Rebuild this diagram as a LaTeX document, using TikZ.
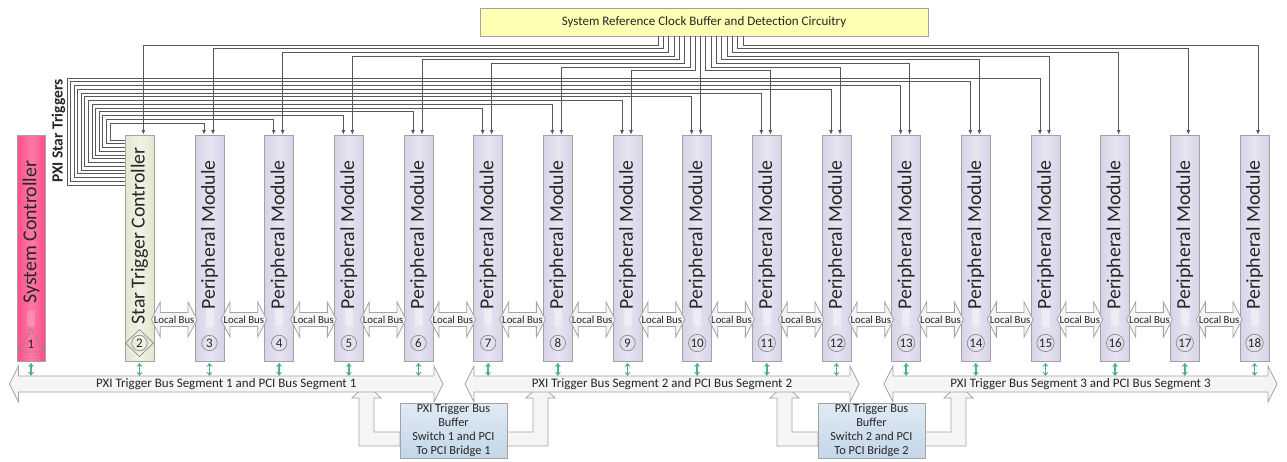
\documentclass[tikz,border=0pt]{standalone}
\usepackage{fontspec}
\setmainfont{Carlito}
\usetikzlibrary{arrows.meta}
\definecolor{wirec}{HTML}{585858}
\definecolor{edgec}{HTML}{A3A3A3}
\definecolor{numedge}{HTML}{8C8C8C}
\definecolor{txt}{HTML}{262626}
\definecolor{periL}{HTML}{E8E4F1}
\definecolor{periD}{HTML}{D8D2E7}
\definecolor{starL}{HTML}{F0F2E4}
\definecolor{starD}{HTML}{E2E7CF}
\definecolor{sysL}{HTML}{FF78A6}
\definecolor{sysD}{HTML}{FF4D8A}
\definecolor{clkY}{HTML}{FFFFB4}
\definecolor{brT}{HTML}{E0EAF4}
\definecolor{brB}{HTML}{C3D6E8}
\definecolor{busF}{HTML}{F5F5F5}
\definecolor{grn}{HTML}{4DB383}
\begin{document}
\begin{tikzpicture}[x=1pt,y=-1pt,
  wire/.style={draw=wirec, line width=1pt},
  wirearr/.style={wire, -{Latex[length=4.5pt,width=4pt]}},
  modbox/.style={draw=edgec, line width=0.8pt, minimum width=29pt, minimum height=226pt, inner sep=0pt},
  peri/.style={modbox, left color=periD, right color=periD, middle color=periL},
  modtext/.style={rotate=90, font=\fontsize{19.8}{22}\selectfont, text=txt, inner sep=0pt},
  numc/.style={circle, draw=numedge, line width=0.7pt, minimum size=15.5pt, inner sep=0.6pt, font=\fontsize{13}{15}\selectfont, text=txt},
  numt/.style={font=\fontsize{13}{15}\selectfont, text=txt, inner sep=0pt},
  blk/.style={draw=edgec, fill=busF, line width=0.8pt},
  lbtext/.style={font=\fontsize{10.8}{12}\selectfont, text=txt, inner sep=0pt},
  bustext/.style={font=\fontsize{13}{15}\selectfont, text=txt, inner sep=0pt},
  grar/.style={draw=grn, line width=1.7pt, {Stealth[length=4pt,width=6pt]}-{Stealth[length=4pt,width=6pt]}},
  bridge/.style={draw=edgec, line width=0.8pt, top color=brT, bottom color=brB, minimum width=107pt, minimum height=55pt, align=center, font=\fontsize{12.3}{14}\selectfont, text=txt, inner sep=0pt}
]
\useasboundingbox (0,0) rectangle (1287,461);

% clock box
\node[draw=edgec, line width=0.8pt, fill=clkY, minimum width=448pt, minimum height=28pt, inner sep=0pt, font=\fontsize{13}{15}\selectfont, text=txt] (clk) at (704,22) {System Reference Clock Buffer and Detection Circuitry};

% modules
\node[modbox, minimum width=28pt, left color=sysD, right color=sysD, middle color=sysL] (m1) at (31,248) {};
\node[modbox, left color=starD, right color=starD, middle color=starL] (m2) at (139.5,248) {};
\foreach \s in {3,...,18}{
  \pgfmathsetmacro\cx{209.5+(\s-3)*69.667}
  \node[peri] (m\s) at (\cx,248) {};
}

% PXI star trigger wires
\node[rotate=90, font=\bfseries\fontsize{15.5}{17}\selectfont, text=txt, inner sep=0pt] (pst) at (58.5,131) {PXI Star Triggers};
\foreach \s in {3,...,15}{
  \pgfmathsetmacro\i{\s-3}
  \pgfmathsetmacro\a{204+(\s-3)*69.667}
  \pgfmathsetmacro\xl{110-\i*3.58}
  \pgfmathsetmacro\yt{123-\i*3.75}
  \pgfmathsetmacro\ye{140+\i*3.75}
  \draw[wirearr] (m2.west |- 0,\ye) -- (\xl,\ye) -- (\xl,\yt) -- (\a,\yt) -- (\a,0 |- m\s.north);
}

% clock wires
\foreach \s in {2,...,18}{
  \pgfmathsetmacro\a{213+(\s-3)*69.667}
  \pgfmathsetmacro\d{700.67+(\s-10)*5.3}
  \pgfmathsetmacro\k{\s<10 ? \s-2 : 18-\s}
  \pgfmathsetmacro\lv{45+\k*3.7}
  \draw[wirearr] (\d,0 |- clk.south) -- (\d,\lv) -- (\a,\lv) -- (\a,0 |- m\s.north);
}

% module texts, stripes and numbers
\fill[white, opacity=0.18] (27,311) rectangle (35,326);
\node[modtext] (t1) at (31,232) {System Controller};
\node[modtext] (t2) at (139.5,236) {Star Trigger Controller};
\draw[draw=numedge, line width=0.7pt] (18,352) -- (31,329) -- (44,352) -- cycle;
\node[numt] (n1) at (31,344) {1};
\draw[draw=numedge, line width=0.7pt] (125.5,343) -- (139.5,329.5) -- (153.5,343) -- (139.5,356.5) -- cycle;
\node[numc] (n2) at (139.5,343) {2};
\foreach \s in {3,...,18}{
  \pgfmathsetmacro\cx{209.5+(\s-3)*69.667}
  \fill[white, opacity=0.35] (\cx-4,309) rectangle (\cx+4,326);
  \node[modtext] (t\s) at (\cx,235) {Peripheral Module};
  \node[numc] (n\s) at (\cx,343) {\s};
}

% local bus arrows
\foreach \s in {2,...,17}{
  \pgfmathsetmacro\xa{209.5+(\s-3)*69.667+11.5}
  \pgfmathsetmacro\xb{\xa+45.7}
  \pgfmathsetmacro\xc{\xa+9}
  \pgfmathsetmacro\xd{\xb-9}
  \pgfmathsetmacro\xm{(\xa+\xb)/2}
  \draw[blk] (\xa,319.5) -- (\xc,302) -- (\xc,312.5) -- (\xd,312.5) -- (\xd,302) -- (\xb,319.5) -- (\xd,337) -- (\xd,326.5) -- (\xc,326.5) -- (\xc,337) -- cycle;
  \node[lbtext] (lb\s) at (\xm,319.5) {Local Bus};
}

% L-shaped arrows from bridges to bus
\foreach \bx/\sx/\dir in {400/374/-1, 507/533/1, 818/792/-1, 925/951/1}{
  \pgfmathsetmacro\pa{\sx-\dir*7}
  \pgfmathsetmacro\pb{\sx+\dir*7.5}
  \pgfmathsetmacro\pc{\sx+\dir*22}
  \pgfmathsetmacro\pd{\sx+\dir*15}
  \draw[blk] (\bx,432) -- (\sx,432) -- (\sx,398) -- (\pa,398) -- (\pb,384) -- (\pc,398) -- (\pd,398) -- (\pd,446) -- (\bx,446) -- cycle;
}

% bus segments
\foreach \xa/\xb/\n in {9.5/443/1, 465/859/2, 884/1277/3}{
  \pgfmathsetmacro\xc{\xa+9}
  \pgfmathsetmacro\xd{\xb-9}
  \pgfmathsetmacro\xm{(\xa+\xb)/2}
  \draw[blk] (\xa,384) -- (\xc,366) -- (\xc,376) -- (\xd,376) -- (\xd,366) -- (\xb,384) -- (\xd,402) -- (\xd,392) -- (\xc,392) -- (\xc,402) -- cycle;
  \node[bustext] (bus\n) at (\xm,384) {PXI Trigger Bus Segment \n\ and PCI Bus Segment \n};
}

% bridge boxes
\node[bridge] (br1) at (453.5,430.5) {PXI Trigger Bus\\Buffer\\Switch 1 and PCI\\To PCI Bridge 1};
\node[bridge] (br2) at (871.5,430.5) {PXI Trigger Bus\\Buffer\\Switch 2 and PCI\\To PCI Bridge 2};

% green connectors
\foreach \s in {1,...,18}{
  \draw[grar] (m\s.south) ++(0,1.5) coordinate (ga\s) -- ++(0,13) coordinate (gb\s);
}
\end{tikzpicture}
\end{document}
